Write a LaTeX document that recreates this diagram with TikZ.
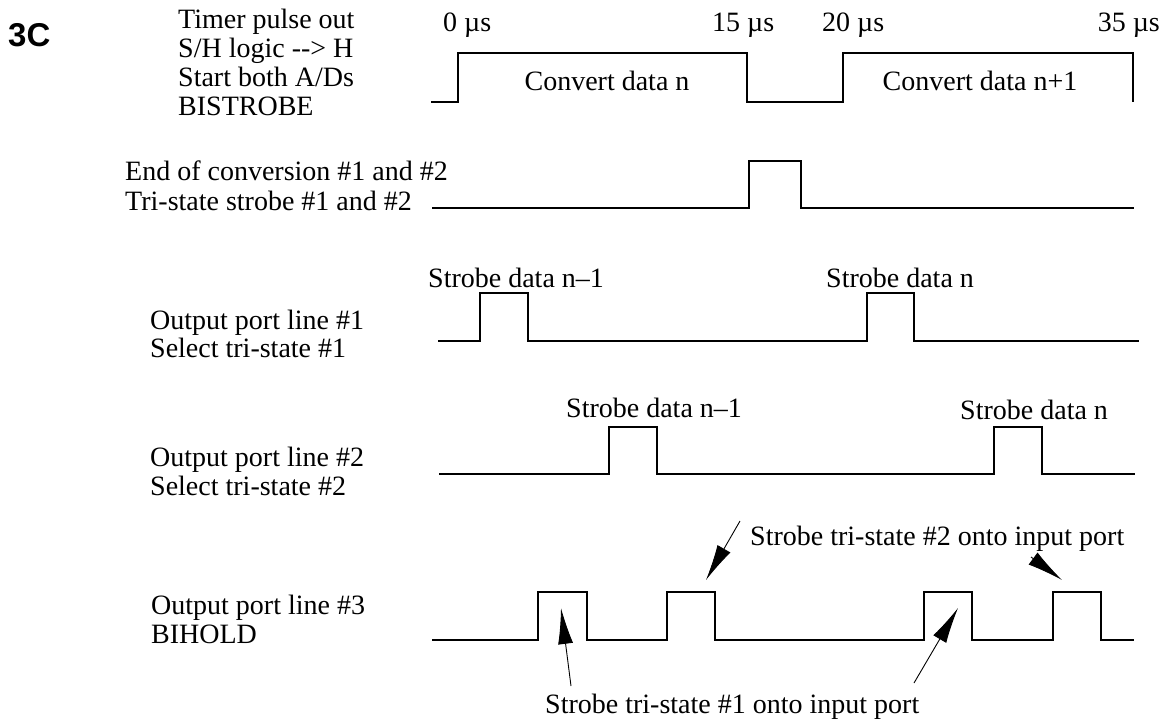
\documentclass[tikz,border=0pt]{standalone}
\usepackage{fontspec}
\setmainfont{Liberation Serif}
\newfontfamily\hdfont{Liberation Sans}
\usetikzlibrary{arrows.meta}
\begin{document}
\begin{tikzpicture}[x=1pt,y=-1pt,
  lbl/.style={anchor=base west, inner sep=0pt, font=\fontsize{28}{30}\selectfont},
  clbl/.style={anchor=base, inner sep=0pt, font=\fontsize{28}{30}\selectfont},
  elbl/.style={anchor=base east, inner sep=0pt, font=\fontsize{28}{30}\selectfont},
  wave/.style={line width=1.4pt, line join=miter},
  pointer/.style={line width=0.9pt, -{Latex[length=36pt,width=15pt]}}]
\useasboundingbox (0,0) rectangle (1162,721);

% title
\node[anchor=base west, inner sep=0pt, font=\hdfont\bfseries\fontsize{33}{36}\selectfont] (title) at (8,46) {3C};

% signal 1
\node[lbl] (s1a) at (178,28) {Timer pulse out};
\node[lbl] (s1b) at (178,57) {S/H logic {-}{-}> H};
\node[lbl] (s1c) at (178,86) {Start both A/Ds};
\node[lbl] (s1d) at (178,115) {BISTROBE};
\node[lbl] (t0) at (443,31) {0 µs};
\node[lbl] (t15) at (712,31) {15 µs};
\node[lbl] (t20) at (822,31) {20 µs};
\node[elbl] (t35) at (1160,31) {35 µs};
\node[clbl] (cv1) at (607,90) {Convert data n};
\node[clbl] (cv2) at (980,90) {Convert data n+1};
\draw[wave] (431,102) -| (458,53) -| (747,102) -| (843,53) -| (1133,102);

% signal 2
\node[lbl] (s2a) at (125,180) {End of conversion \#1 and \#2};
\node[lbl] (s2b) at (125,210) {Tri-state strobe \#1 and \#2};
\draw[wave] (432,208) -| (749,161) -| (801,208) -- (1134,208);

% signal 3
\node[lbl] (s3a) at (150,329) {Output port line \#1};
\node[lbl] (s3b) at (150,357) {Select tri-state \#1};
\node[lbl] (p3a) at (428,287) {Strobe data n–1};
\node[lbl] (p3b) at (826,287) {Strobe data n};
\draw[wave] (438,341) -| (480,293) -| (528,341) -| (867,293) -| (914,341) -- (1139,341);

% signal 4
\node[lbl] (s4a) at (150,466) {Output port line \#2};
\node[lbl] (s4b) at (150,495) {Select tri-state \#2};
\node[lbl] (p4a) at (566,417) {Strobe data n–1};
\node[lbl] (p4b) at (960,419) {Strobe data n};
\draw[wave] (439,474) -| (609,427) -| (657,474) -| (994,427) -| (1042,474) -- (1135,474);

% signal 5
\node[lbl] (s5a) at (151,614) {Output port line \#3};
\node[lbl] (s5b) at (151,643) {BIHOLD};
\node[lbl] (top5) at (750,545) {Strobe tri-state \#2 onto input port};
\node[lbl] (bot5) at (545,713) {Strobe tri-state \#1 onto input port};
\draw[wave] (432,640) -| (538,592) -| (587,640) -| (667,592) -| (715,640) -| (924,592) -| (972,640) -| (1053,592) -| (1101,640) -- (1134,640);

% pointers
\coordinate (aA) at (740,521);
\coordinate (bA) at (706,580);
\coordinate (aB) at (1031,557);
\coordinate (bB) at (1062,580);
\coordinate (aC) at (571,686);
\coordinate (bC) at (561,608);
\coordinate (aD) at (914,683);
\coordinate (bD) at (958,608);
\draw[pointer] (aA) -- (bA);
\draw[pointer] (aB) -- (bB);
\draw[pointer] (aC) -- (bC);
\draw[pointer] (aD) -- (bD);
\end{tikzpicture}
\end{document}
